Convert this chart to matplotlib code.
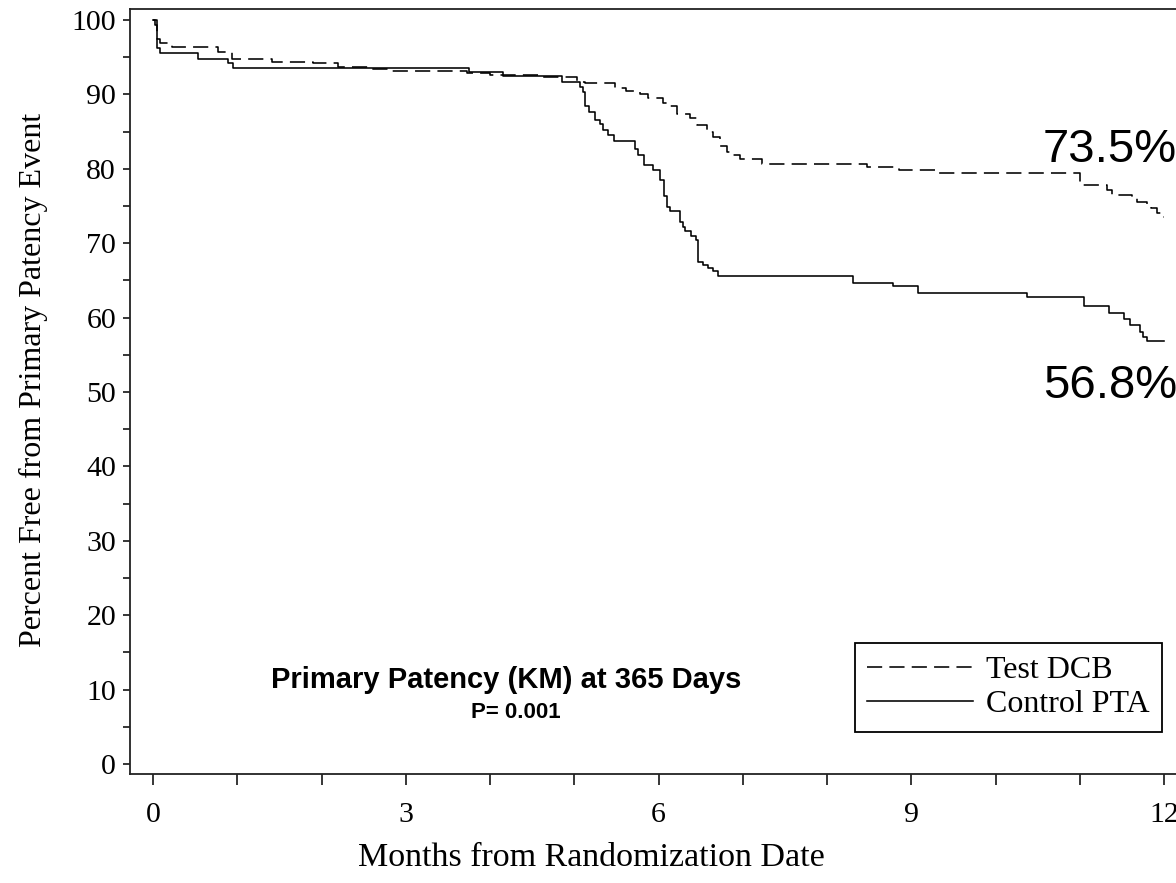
import matplotlib
matplotlib.use("Agg")
import matplotlib.pyplot as plt
from matplotlib.ticker import MultipleLocator

# ---- data ----
test_months = [0, 0.05, 0.08, 0.23, 0.77, 0.94, 1.41, 1.90, 2.20, 2.58, 2.81, 3.73, 4.00,
               4.63, 5.03, 5.13, 5.48, 5.62, 5.78, 5.88, 6.05, 6.14, 6.22, 6.37, 6.46,
               6.58, 6.65, 6.73, 6.81, 6.89, 6.97, 7.23, 8.47, 8.85, 9.28, 11.00, 11.32,
               11.38, 11.62, 11.68, 11.80, 11.84, 11.92, 11.98, 12.00]
test_pct = [100, 97.5, 96.9, 96.4, 95.7, 94.8, 94.4, 94.2, 93.7, 93.4, 93.2, 92.9, 92.6,
            92.4, 91.7, 91.5, 90.8, 90.4, 90.1, 89.5, 88.8, 88.4, 87.4, 86.8, 85.9,
            85.0, 84.3, 83.0, 82.3, 81.9, 81.3, 80.7, 80.3, 79.8, 79.4, 77.8, 77.2,
            76.5, 76.1, 75.6, 75.1, 74.7, 74.0, 73.5, 73.5]

ctrl_months = [0, 0.02, 0.05, 0.08, 0.53, 0.89, 0.95, 3.75, 4.15, 4.85, 5.07, 5.10, 5.13,
               5.18, 5.25, 5.31, 5.34, 5.40, 5.47, 5.72, 5.76, 5.83, 5.94, 6.02, 6.06,
               6.10, 6.14, 6.26, 6.29, 6.32, 6.39, 6.45, 6.47, 6.53, 6.59, 6.65, 6.71,
               8.31, 8.78, 9.08, 10.37, 11.05, 11.35, 11.52, 11.60, 11.71, 11.75, 11.80, 12.00]
ctrl_pct = [100, 99.3, 96.2, 95.6, 94.8, 94.2, 93.5, 93.0, 92.5, 91.6, 91.0, 90.3, 88.5,
            87.7, 86.6, 86.0, 85.2, 84.5, 83.8, 82.7, 81.9, 80.5, 79.8, 78.5, 76.3,
            74.9, 74.3, 72.9, 72.2, 71.6, 71.0, 70.4, 67.5, 67.1, 66.6, 66.2, 65.6,
            64.7, 64.2, 63.3, 62.8, 61.5, 60.6, 59.8, 59.0, 58.1, 57.4, 56.8, 56.8]

series_labels = ["Test DCB", "Control PTA"]
x_major_ticks = [0, 3, 6, 9, 12]
y_major_ticks = [0, 10, 20, 30, 40, 50, 60, 70, 80, 90, 100]
final_labels = ["73.5%", "56.8%"]
title_text = "Primary Patency (KM) at 365 Days"
p_text = "P= 0.001"
xlabel = "Months from Randomization Date"
ylabel = "Percent Free from Primary Patency Event"

# ---- figure ----
W, H = 1176, 883
fig = plt.figure(figsize=(W / 100, H / 100), dpi=100)
ax_left, ax_right, ax_bottom, ax_top = 130, 1188, 774, 9
ax = fig.add_axes([ax_left / W, 1 - ax_bottom / H, (ax_right - ax_left) / W, (ax_bottom - ax_top) / H])

serif = ["Liberation Serif", "DejaVu Serif"]
sans = ["Liberation Sans", "DejaVu Sans"]

lw = 1.15
ax.plot(test_months, test_pct, drawstyle="steps-post", color="black", lw=lw,
        linestyle=(0, (9.5, 4.5)), label=series_labels[0])
ax.plot(ctrl_months, ctrl_pct, drawstyle="steps-post", color="black", lw=lw,
        linestyle="-", label=series_labels[1])

# axis scaling: x0 at px153, 84.25 px/month ; y0 at px764, 7.44 px/unit
x0_px, px_per_month = 153, 84.25
y0_px, px_per_pct = 764, 7.44
ax.set_xlim((ax_left - x0_px) / px_per_month, (ax_right - x0_px) / px_per_month)
ax.set_ylim(-(ax_bottom - y0_px) / px_per_pct, (y0_px - ax_top) / px_per_pct)

ax.xaxis.set_major_locator(plt.FixedLocator(x_major_ticks))
ax.xaxis.set_minor_locator(MultipleLocator(1))
ax.yaxis.set_major_locator(plt.FixedLocator(y_major_ticks))
ax.yaxis.set_minor_locator(MultipleLocator(5))
ax.tick_params(axis="x", which="both", direction="out", length=8, width=1.1, pad=12,
               labelsize=21.5, colors="black")
ax.tick_params(axis="y", which="both", direction="out", length=5, width=1.1, pad=5,
               labelsize=21.5, colors="black")
for lab in ax.get_xticklabels() + ax.get_yticklabels():
    lab.set_family(serif)
for s in ax.spines.values():
    s.set_linewidth(1.3)
    s.set_color("#222222")

# axis titles (placed where the reference shows them)
fig.text(591 / W, 1 - 858 / H, xlabel, fontsize=24.5, family=serif, ha="center", va="center")
fig.text(33 / W, 1 - 380 / H, ylabel, fontsize=23, family=serif, ha="center", va="center",
         rotation=90)

# annotations
def px2data(xp, yp):
    return (xp - x0_px) / px_per_month, (y0_px - yp) / px_per_pct

tx, ty = px2data(1043, 162)
ax.text(tx, ty, final_labels[0], fontsize=34, family=sans, ha="left", va="baseline")
tx, ty = px2data(1043, 398)
ax.text(tx, ty, final_labels[1], fontsize=34, family=sans, ha="left", va="baseline")
tx, ty = px2data(506, 688)
ax.text(tx, ty, title_text, fontsize=21, family=sans, fontweight="bold", ha="center", va="baseline")
tx, ty = px2data(516, 718)
ax.text(tx, ty, p_text, fontsize=16, family=sans, fontweight="bold", ha="center", va="baseline")

leg = ax.legend(loc="upper right", bbox_to_anchor=(1162 / W, 1 - 643 / H),
                bbox_transform=fig.transFigure, borderaxespad=0, fancybox=False,
                framealpha=1, edgecolor="black", prop={"family": serif, "size": 23},
                handlelength=3.3, handletextpad=0.4, borderpad=0.4, labelspacing=0.15)
leg.get_frame().set_linewidth(1.3)

fig.savefig("out.png", dpi=100)
